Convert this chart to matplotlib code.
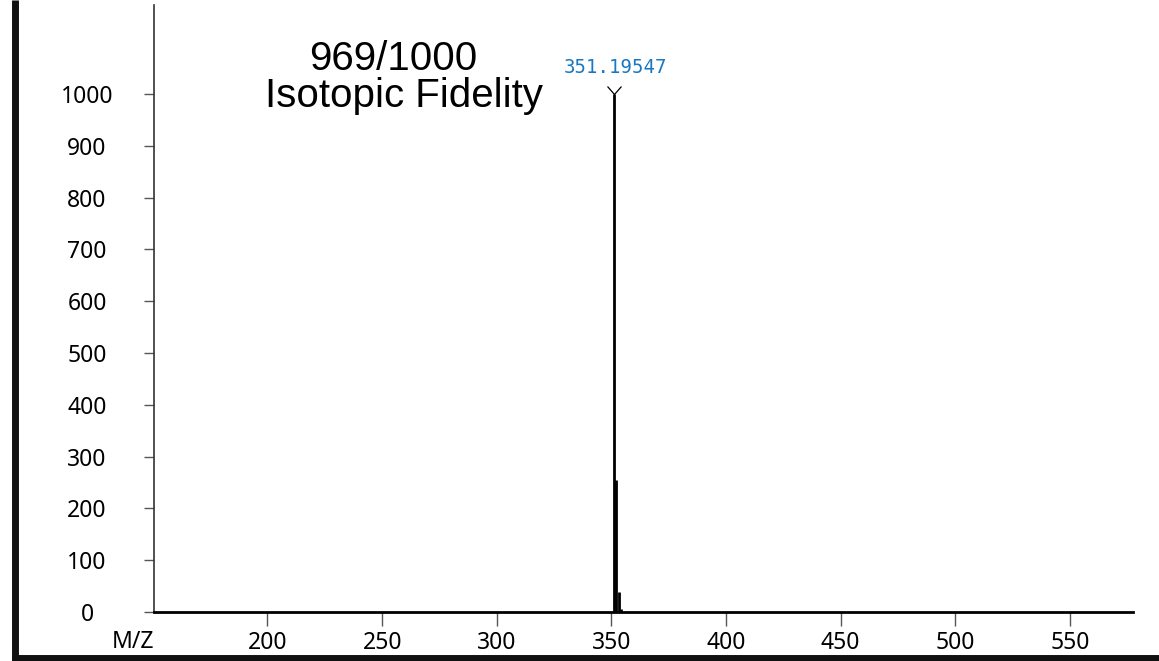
import matplotlib.pyplot as plt
from matplotlib.lines import Line2D

# Peak list: m/z and relative intensity
mz = [351.19547, 352.199, 353.202, 354.205]
intensity = [1000, 255, 39, 5]
base_peak_label = "351.19547"
score_text = "969/1000"
score_caption = "Isotopic Fidelity"

x_ticks = [200, 250, 300, 350, 400, 450, 500, 550]
y_ticks = [0, 100, 200, 300, 400, 500, 600, 700, 800, 900, 1000]

W, H = 1159, 661
fig = plt.figure(figsize=(W / 100, H / 100), dpi=100)
ax = fig.add_axes([154 / W, (H - 612) / H, (1133 - 154) / W, (612 - 5) / H])

ax.vlines(mz, 0, intensity, color='black', linewidth=2, zorder=3)

# open caret above the base peak
ax.plot([mz[0]], [intensity[0]], marker=[(-7, 8), (0, 0), (7, 8)], markersize=11.5,
        markerfacecolor='none', markeredgecolor='black', markeredgewidth=0.9,
        linestyle='none', zorder=4)
ax.annotate(base_peak_label, xy=(mz[0], intensity[0]), xytext=(1, 15),
            textcoords='offset points', ha='center', va='baseline',
            fontsize=13.7, family='DejaVu Sans Mono', color='#1a78c2')

def px(x, y):
    return x / W, 1 - y / H

fig.text(*px(393, 70), score_text, ha='center', va='baseline', fontsize=29,
         family='Liberation Sans')
fig.text(*px(404, 107), score_caption, ha='center', va='baseline', fontsize=29,
         family='Liberation Sans')

ax.set_xlim(150.5, 577.5)
ax.set_ylim(0, 1172)
ax.set_xticks(x_ticks)
ax.set_yticks(y_ticks)
ax.tick_params(axis='x', length=10, width=1.0, color='#555555', pad=4)
ax.tick_params(axis='y', length=7.2, width=1.0, color='#555555', pad=41)
for lab in ax.get_xticklabels() + ax.get_yticklabels():
    lab.set_family('Noto Sans')
    lab.set_fontsize(16.5)
for lab in ax.get_yticklabels():
    lab.set_ha('center')
for s in ['top', 'right']:
    ax.spines[s].set_visible(False)
ax.spines['left'].set_color('#333333')
ax.spines['left'].set_linewidth(1.2)
ax.spines['bottom'].set_color('black')
ax.spines['bottom'].set_linewidth(2)

fig.text(*px(133, 642), "M/Z", ha='center', va='center', fontsize=16.5,
         family='Noto Sans')

# heavy frame along the left and bottom edges
fig.add_artist(Line2D([15.5 / W, 15.5 / W], [0, 1], color='#111111', linewidth=5,
                      solid_capstyle='butt', transform=fig.transFigure))
fig.add_artist(Line2D([12 / W, 1], [3 / H, 3 / H], color='#111111', linewidth=5,
                      solid_capstyle='butt', transform=fig.transFigure))

fig.savefig('out.png', dpi=100)
